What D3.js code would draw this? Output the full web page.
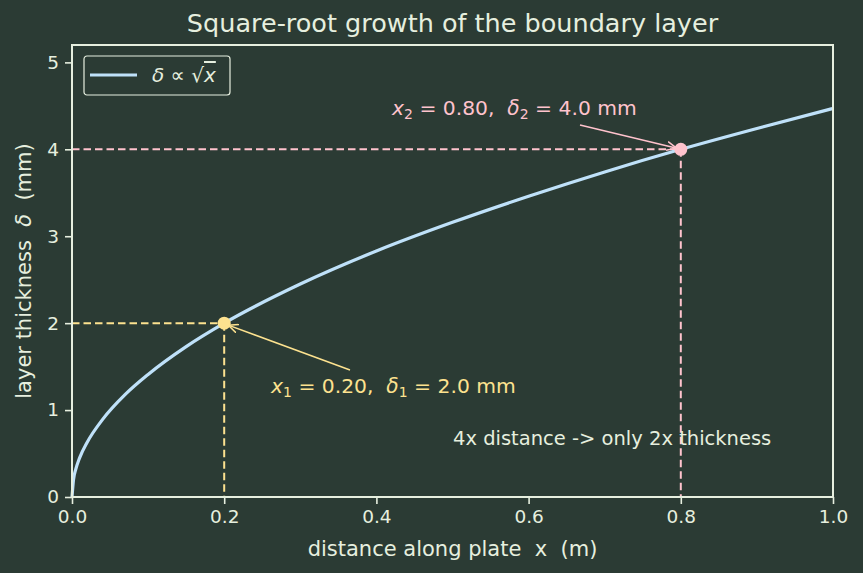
<!DOCTYPE html>
<html>
<head>
<meta charset="utf-8">
<script src="https://cdn.jsdelivr.net/npm/d3@7"></script>
<style>
body { margin:0; background:#2b3b34; }
text { font-family: "DejaVu Sans", sans-serif; }
</style>
</head>
<body>
<svg id="chart" width="863" height="573"></svg>
<script>
// curve
var xs     = [0, 0.002, 0.005, 0.01, 0.02, 0.04, 0.07, 0.1, 0.15, 0.2, 0.3, 0.4, 0.5, 0.6, 0.7, 0.8, 0.9, 1.0];
var deltas = [0, 0.20, 0.32, 0.45, 0.63, 0.89, 1.18, 1.41, 1.73, 2.0, 2.45, 2.83, 3.16, 3.46, 3.74, 4.0, 4.24, 4.47];
var xTicks = [0, 0.2, 0.4, 0.6, 0.8, 1.0];
var yTicks = [0, 1, 2, 3, 4, 5];
var marks = [
  {x: 0.2, d: 2.0, sub: "1", col: "#fde28f"},
  {x: 0.8, d: 4.0, sub: "2", col: "#ffc3cd"}
];

var margin = {top: 45, right: 30, bottom: 76, left: 72};
var W = 863, H = 573;
var w = W - margin.left - margin.right, h = H - margin.top - margin.bottom;
var fg = "#e6efdf", bg = "#2b3b34";

var svg = d3.select("#chart");
svg.append("rect").attr("width", W).attr("height", H).attr("fill", bg);
var g = svg.append("g").attr("transform", "translate(" + margin.left + "," + margin.top + ")");

var x = d3.scaleLinear().domain([0, 1]).range([0, w]);
var y = d3.scaleLinear().domain([0, 5.2]).range([h, 0]);

var defs = svg.append("defs");
marks.forEach(function(m, i) {
  defs.append("marker").attr("id", "arr" + i).attr("viewBox", "0 0 10 10")
    .attr("refX", 10).attr("refY", 5).attr("markerWidth", 10).attr("markerHeight", 10)
    .attr("markerUnits", "userSpaceOnUse").attr("orient", "auto")
    .append("path").attr("d", "M0,0.5 L10,5 L0,9.5").attr("fill", "none")
    .attr("stroke", m.col).attr("stroke-width", 1.5);
});

// guide lines
marks.forEach(function(m) {
  g.append("line").attr("x1", 0).attr("x2", x(m.x)).attr("y1", y(m.d)).attr("y2", y(m.d))
    .attr("stroke", m.col).attr("stroke-width", 2).attr("stroke-dasharray", "7.5,4");
  g.append("line").attr("x1", x(m.x)).attr("x2", x(m.x)).attr("y1", y(m.d)).attr("y2", h)
    .attr("stroke", m.col).attr("stroke-width", 2).attr("stroke-dasharray", "7.5,4");
});

var line = d3.line().x(function(d, i) { return x(xs[i]); }).y(function(d) { return y(d); })
  .curve(d3.curveMonotoneX);
g.append("path").attr("d", line(deltas)).attr("fill", "none")
  .attr("stroke", "#bfe1f9").attr("stroke-width", 3.2);

marks.forEach(function(m) {
  g.append("circle").attr("cx", x(m.x)).attr("cy", y(m.d)).attr("r", 6.5).attr("fill", m.col);
});

// annotations
function annot(m, i, tx, ty, ax, ay, tox, toy) {
  var t = g.append("text").attr("x", tx).attr("y", ty).attr("fill", m.col).attr("font-size", 20.3)
    .attr("xml:space", "preserve");
  t.append("tspan").attr("font-style", "italic").text("x");
  t.append("tspan").attr("font-size", 14).attr("dy", 4).text(m.sub);
  t.append("tspan").attr("dy", -4).text(" = " + m.x.toFixed(2) + ",  ");
  t.append("tspan").attr("font-style", "italic").text("\u03b4");
  t.append("tspan").attr("font-size", 14).attr("dy", 4).text(m.sub);
  t.append("tspan").attr("dy", -4).text(" = " + m.d.toFixed(1) + " mm");
  g.append("line").attr("x1", ax).attr("y1", ay).attr("x2", tox).attr("y2", toy)
    .attr("stroke", m.col).attr("stroke-width", 1.5).attr("marker-end", "url(#arr" + i + ")");
}
annot(marks[0], 0, 199, 348, 278, 325, x(0.2) + 4, y(2.0) + 2);
annot(marks[1], 1, 320, 70, 508, 80, x(0.8) - 4, y(4.0) - 1);

g.append("text").attr("x", 381).attr("y", 400).attr("fill", fg).attr("font-size", 19.5)
  .text("4x distance -> only 2x thickness");

// axes
var xAxis = g.append("g").attr("transform", "translate(0," + h + ")")
  .call(d3.axisBottom(x).tickValues(xTicks).tickFormat(d3.format(".1f")).tickSize(7).tickPadding(6));
var yAxis = g.append("g")
  .call(d3.axisLeft(y).tickValues(yTicks).tickFormat(d3.format("d")).tickSize(7).tickPadding(6));
[xAxis, yAxis].forEach(function(a) {
  a.select(".domain").remove();
  a.selectAll("line").attr("stroke", fg).attr("stroke-width", 1.6);
  a.selectAll("text").attr("fill", fg).attr("font-size", 18.5).attr("font-family", "DejaVu Sans");
});
g.append("rect").attr("width", w).attr("height", h).attr("fill", "none")
  .attr("stroke", fg).attr("stroke-width", 2);

// labels
svg.append("text").attr("x", margin.left + w / 2).attr("y", 32).attr("text-anchor", "middle")
  .attr("fill", fg).attr("font-size", 25.5).text("Square-root growth of the boundary layer");
var xl = svg.append("text").attr("x", margin.left + w / 2).attr("y", 556).attr("text-anchor", "middle")
  .attr("fill", fg).attr("font-size", 21).attr("xml:space", "preserve");
xl.append("tspan").text("distance along plate  x  (m)");
var yl = svg.append("text").attr("transform", "translate(31," + (margin.top + h / 2) + ") rotate(-90)")
  .attr("text-anchor", "middle").attr("fill", fg).attr("font-size", 21).attr("xml:space", "preserve");
yl.append("tspan").text("layer thickness  ");
yl.append("tspan").attr("font-style", "italic").text("\u03b4");
yl.append("tspan").text("  (mm)");

// legend
var lg = g.append("g").attr("transform", "translate(12,11)");
lg.append("rect").attr("width", 146).attr("height", 39).attr("rx", 3)
  .attr("fill", bg).attr("stroke", fg).attr("stroke-width", 1.2);
lg.append("line").attr("x1", 6).attr("x2", 53).attr("y1", 19).attr("y2", 19)
  .attr("stroke", "#bfe1f9").attr("stroke-width", 3.2);
var lt = lg.append("text").attr("x", 68).attr("y", 26).attr("fill", fg).attr("font-size", 20)
  .attr("xml:space", "preserve");
lt.append("tspan").attr("font-style", "italic").text("\u03b4");
lt.append("tspan").text(" \u221d \u221a");
lt.append("tspan").attr("font-style", "italic").attr("text-decoration", "overline").text("x");
</script>
</body>
</html>
